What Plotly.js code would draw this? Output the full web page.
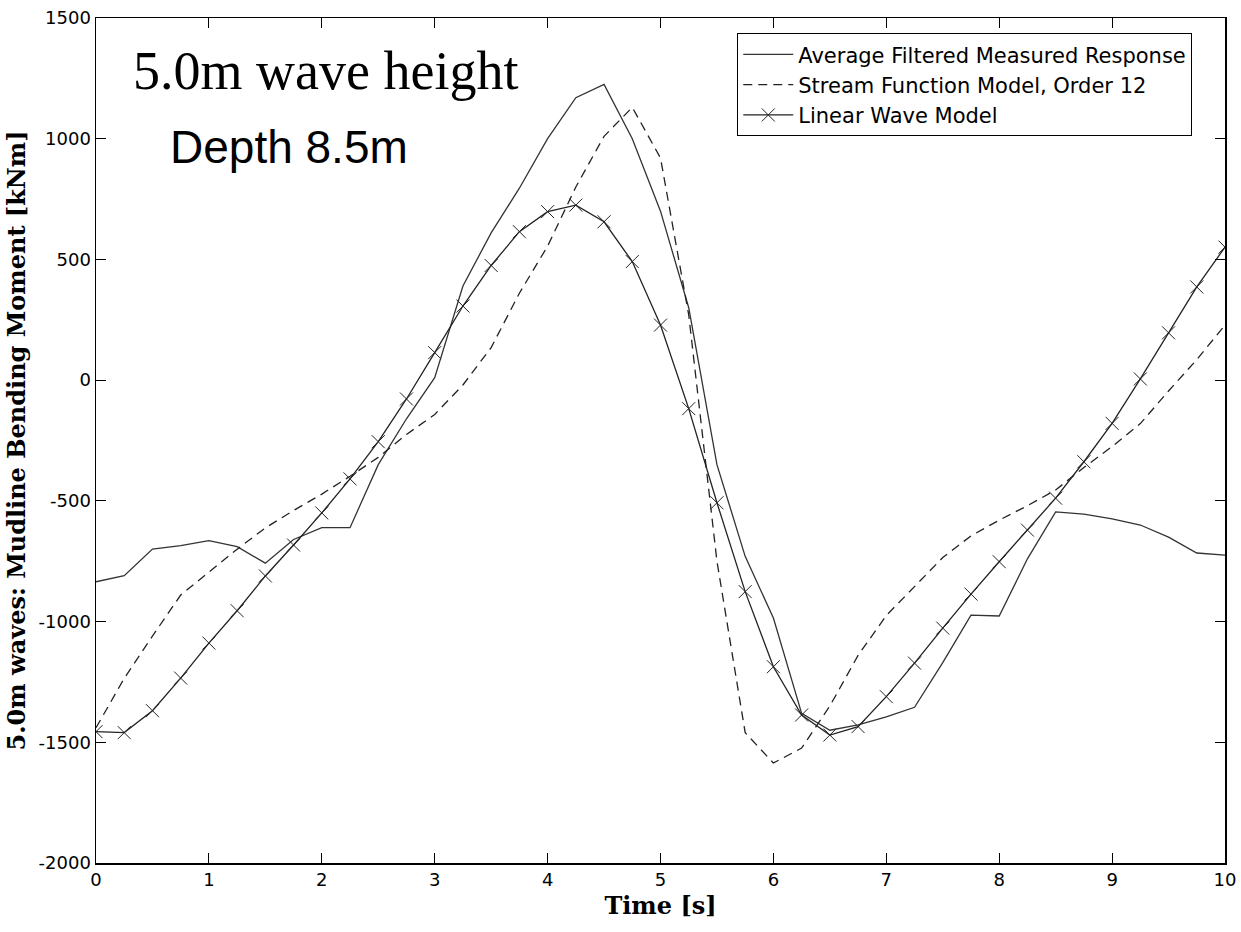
<!DOCTYPE html>
<html>
<head>
<meta charset="utf-8">
<script src="https://cdn.plot.ly/plotly-3.0.1.min.js"></script>
<style>html,body{margin:0;padding:0;background:#fff;}#chart{width:1241px;height:932px;}</style>
</head>
<body>
<div id="chart"></div>
<script>
const timeMeasured = [0,0.25,0.5,0.75,1.0,1.25,1.5,1.75,2.0,2.25,2.5,2.75,3.0,3.25,3.5,3.75,4.0,4.25,4.5,4.75,5.0,5.25,5.5,5.75,6.0,6.25,6.5,6.75,7.0,7.25,7.5,7.75,8.0,8.25,8.5,8.75,9.0,9.25,9.5,9.75,10];
const measured = [-835,-810,-700,-685,-665,-690,-758,-660,-611,-611,-350,-160,10,390,610,795,1000,1170,1225,1000,700,300,-350,-730,-985,-1380,-1450,-1428,-1395,-1355,-1170,-973,-977,-740,-546,-555,-575,-600,-650,-716,-725];

const timeModel = [0,0.25,0.5,0.75,1.0,1.25,1.5,1.75,2.0,2.25,2.5,2.75,3.0,3.25,3.5,3.75,4.0,4.25,4.5,4.75,5.0,5.25,5.5,5.75,6.0,6.25,6.5,6.75,7.0,7.25,7.5,7.75,8.0,8.25,8.5,8.75,9.0,9.25,9.5,9.75,10];
const streamFunction = [-1440,-1235,-1060,-890,-795,-700,-612,-540,-472,-398,-320,-225,-142,-20,135,360,555,800,1010,1130,920,270,-750,-1460,-1586,-1524,-1350,-1140,-975,-855,-735,-645,-580,-520,-455,-362,-275,-180,-45,85,228];
const linearWave = [-1456,-1460,-1369,-1234,-1089,-955,-811,-683,-550,-409,-255,-78,114,307,475,615,698,725,656,491,228,-118,-508,-876,-1187,-1387,-1470,-1435,-1311,-1172,-1027,-886,-752,-621,-489,-338,-179,5,196,386,551];

const seriesNames = ["Average Filtered Measured Response","Stream Function Model, Order 12","Linear Wave Model"];
const xTicks = [0,1,2,3,4,5,6,7,8,9,10];
const xTickLabels = ["0","1","2","3","4","5","6","7","8","9","10"];
const yTicks = [-2000,-1500,-1000,-500,0,500,1000,1500];
const yTickLabels = ["-2000","-1500","-1000","-500","0","500","1000","1500"];

const traces = [
  {x: timeMeasured, y: measured, name: seriesNames[0], mode: 'lines',
   line: {color: '#333', width: 1.3}},
  {x: timeModel, y: streamFunction, name: seriesNames[1], mode: 'lines',
   line: {color: '#222', width: 1.3, dash: '9px,6px'}},
  {x: timeModel, y: linearWave, name: seriesNames[2], mode: 'lines+markers',
   line: {color: '#222', width: 1.3},
   marker: {symbol: 'x-thin-open', size: 13, color: '#222', line: {width: 1, color: '#222'}}}
];

const tickFont = {family: 'DejaVu Sans, sans-serif', size: 18, color: '#000'};
const titleFont = {family: 'DejaVu Serif, serif', size: 24, color: '#000', weight: 'bold'};

const layout = {
  width: 1241, height: 932,
  margin: {l: 96, r: 16, t: 18, b: 69},
  paper_bgcolor: '#fff', plot_bgcolor: '#fff',
  showlegend: true,
  legend: {x: 0.568, y: 0.982, xanchor: 'left', yanchor: 'top',
    bordercolor: '#000', borderwidth: 1, bgcolor: '#fff',
    font: {family: 'DejaVu Sans, sans-serif', size: 21, color: '#000'},
    tracegroupgap: 0, itemwidth: 50},
  xaxis: {range: [0, 10], tickvals: xTicks, ticktext: xTickLabels, ticks: 'inside', ticklen: 10, tickcolor: '#000',
    showline: true, linecolor: '#000', linewidth: 1.5, mirror: 'ticks', showgrid: false, zeroline: false,
    tickfont: tickFont,
    title: {text: 'Time [s]', font: titleFont, standoff: 8}},
  yaxis: {range: [-2000, 1500], tickvals: yTicks, ticktext: yTickLabels, ticks: 'inside', ticklen: 10, tickcolor: '#000',
    showline: true, linecolor: '#000', linewidth: 1.5, mirror: 'ticks', showgrid: false, zeroline: false,
    tickfont: tickFont,
    title: {text: '5.0m waves: Mudline Bending Moment [kNm]', font: titleFont, standoff: 6}},
  annotations: [
    {text: '5.0m wave height', xref: 'paper', yref: 'paper', x: 0.031, y: 0.937, xanchor: 'left', yanchor: 'middle',
     showarrow: false, font: {family: 'Liberation Serif, Times New Roman, serif', size: 54, color: '#000'}},
    {text: 'Depth 8.5m', xref: 'paper', yref: 'paper', x: 0.064, y: 0.847, xanchor: 'left', yanchor: 'middle',
     showarrow: false, font: {family: 'Liberation Sans, Arial, sans-serif', size: 46, color: '#000'}}
  ]
};

Plotly.newPlot('chart', traces, layout, {displayModeBar: false, staticPlot: true});
</script>
</body>
</html>
